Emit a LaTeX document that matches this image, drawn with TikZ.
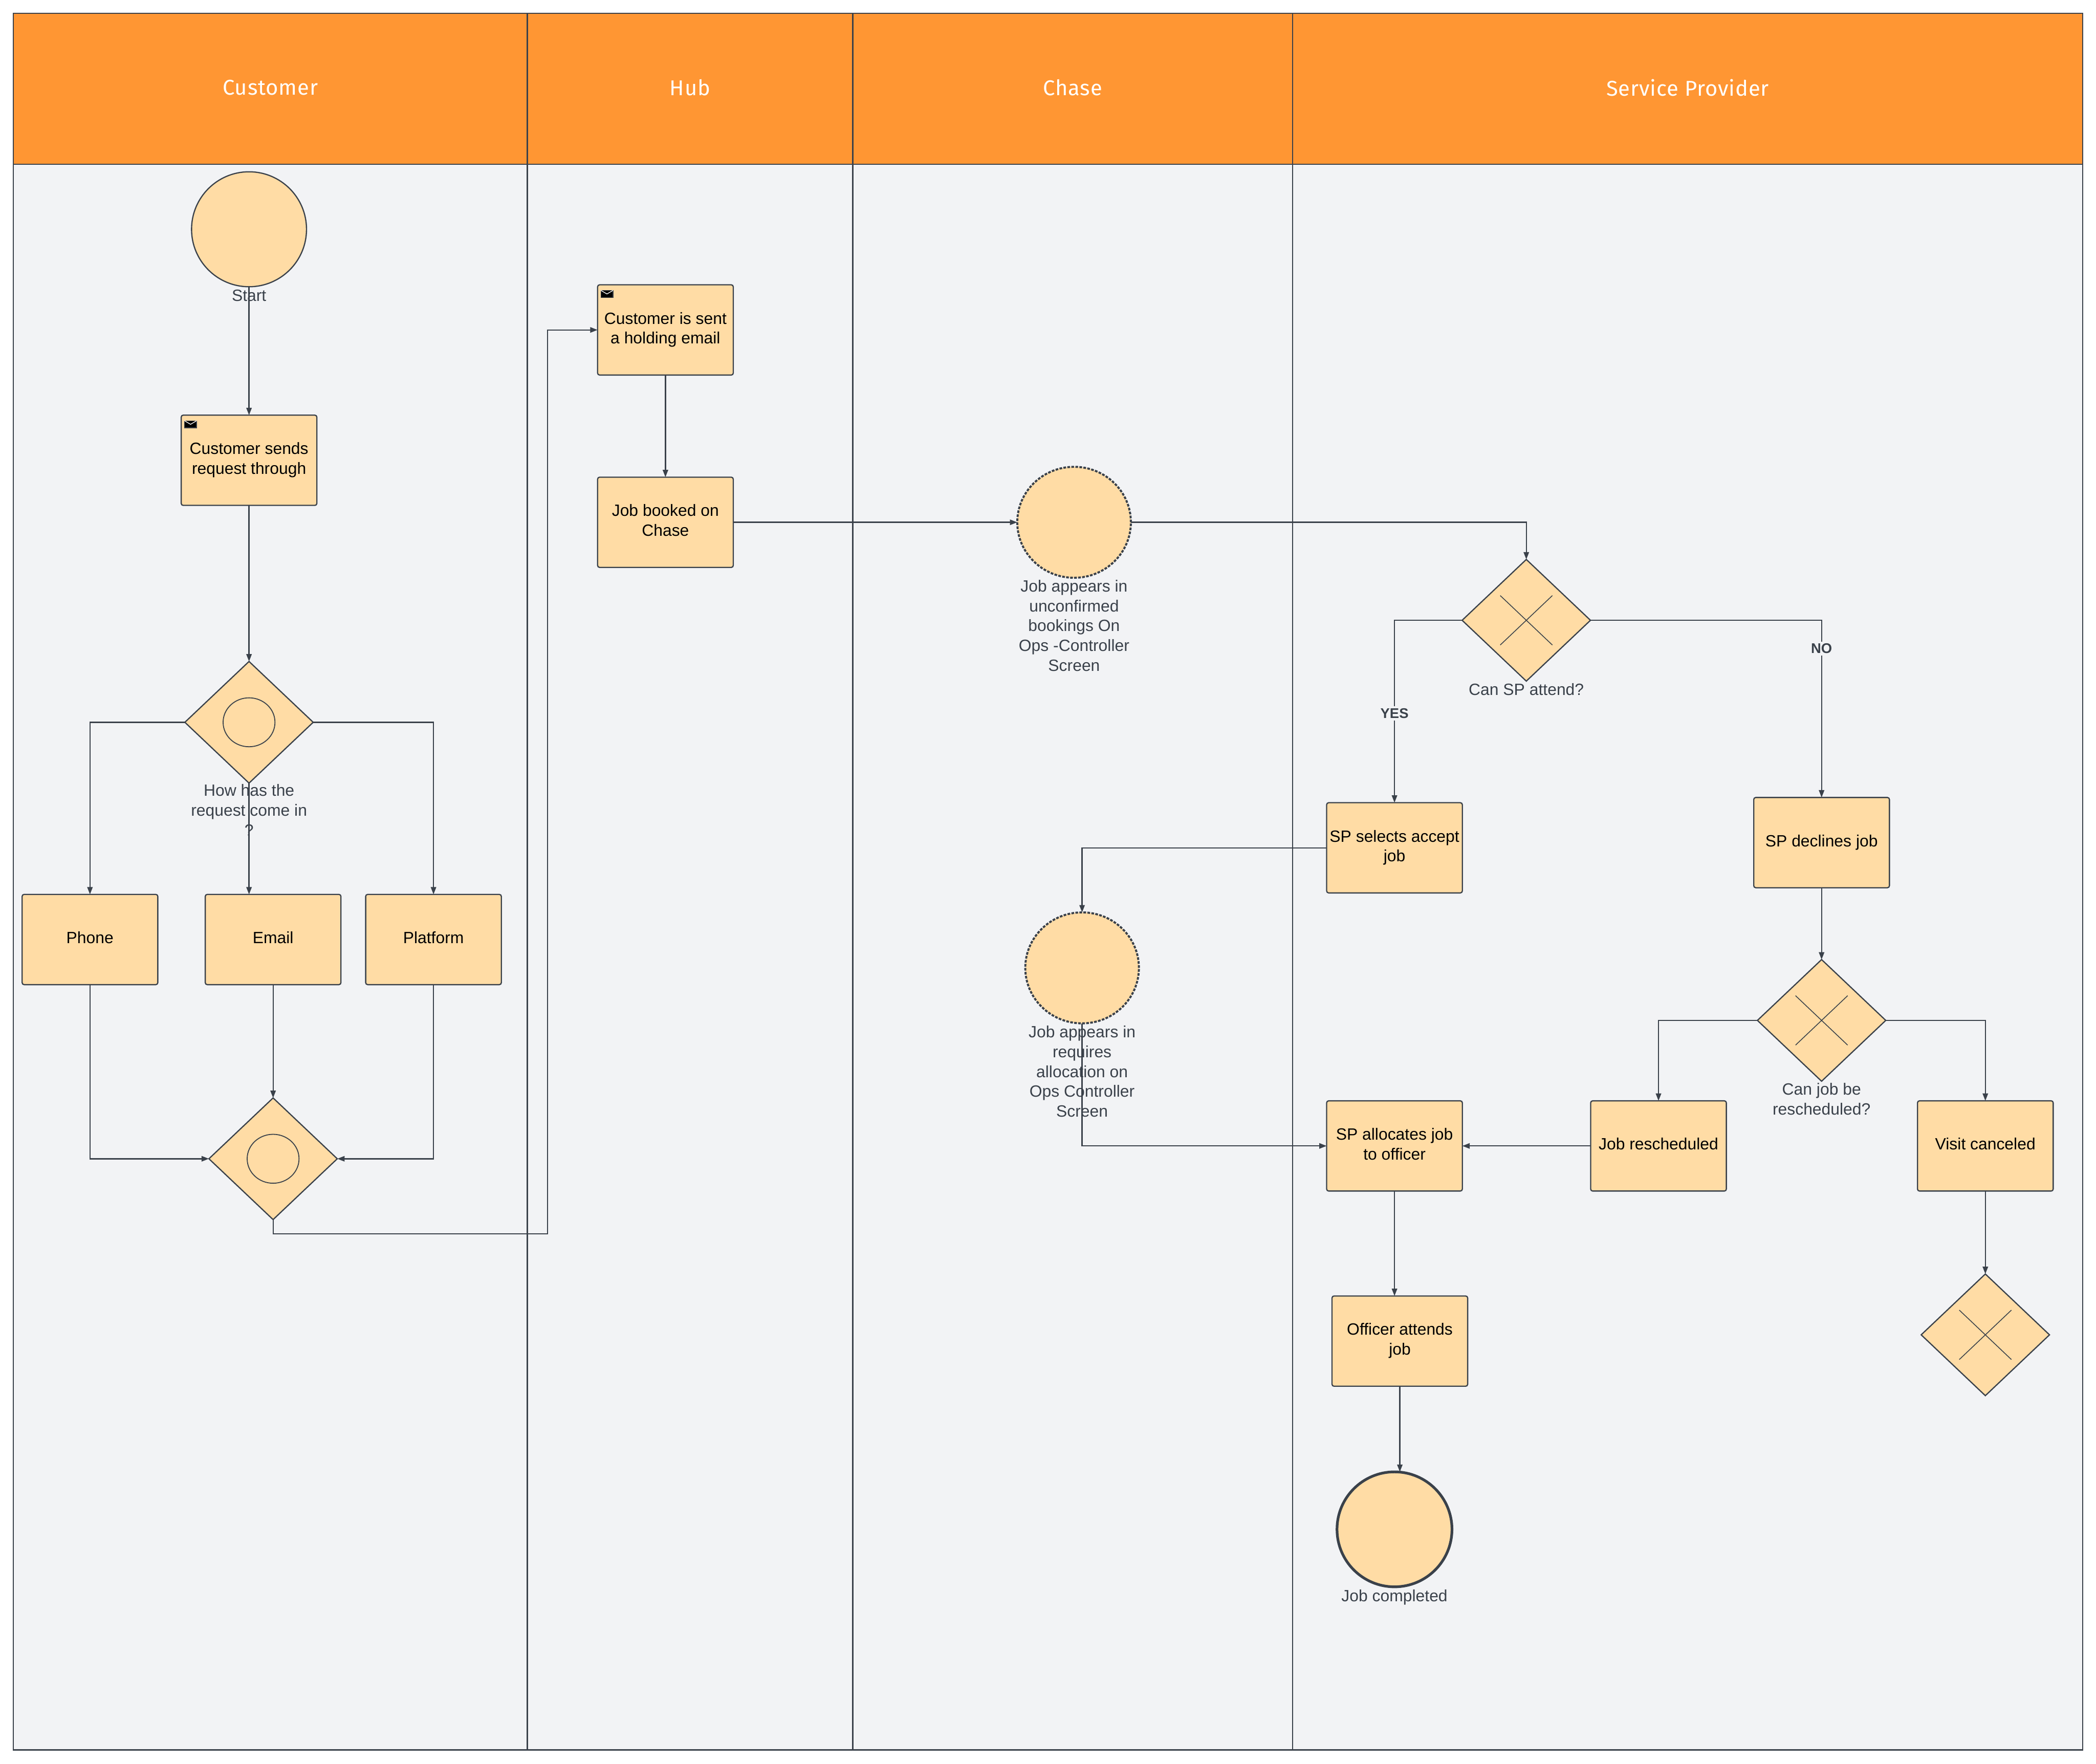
\documentclass[tikz,border=0pt]{standalone}
\usepackage{fontspec}
\setmainfont{Liberation Sans}
\newfontfamily\headfont[LetterSpace=2]{Fira Sans}
\usetikzlibrary{shapes.geometric,arrows.meta}
\definecolor{lineslate}{RGB}{58,65,74}
\definecolor{headorange}{RGB}{255,150,51}
\definecolor{taskpeach}{RGB}{255,220,165}
\definecolor{lanegrey}{RGB}{242,243,245}
\tikzset{
  lanehead/.style={draw=lineslate, fill=headorange, line width=.9pt, inner sep=0pt, outer sep=0pt, minimum height=113pt, text=white, text depth=2pt, font=\headfont\fontsize{16}{19}\selectfont},
  lanebody/.style={draw=lineslate, fill=lanegrey, line width=.9pt, inner sep=0pt, outer sep=0pt, minimum height=1186pt},
  taskbox/.style={draw=lineslate, fill=taskpeach, line width=.9pt, rounded corners=1.5pt, inner sep=0pt, outer sep=0pt, minimum width=101.5pt, minimum height=67.5pt, align=center, text=black, text depth=3pt, font=\fontsize{12.2}{14.8}\selectfont},
  gatebox/.style={draw=lineslate, fill=taskpeach, diamond, line width=.9pt, inner sep=0pt, outer sep=0pt, minimum width=96pt, minimum height=91pt},
  gateround/.style={draw=lineslate, fill=taskpeach, ellipse, line width=.7pt, inner sep=0pt, outer sep=0pt, minimum width=38.8pt, minimum height=36.6pt},
  startround/.style={draw=lineslate, fill=taskpeach, circle, line width=.9pt, inner sep=0pt, outer sep=0pt, minimum size=86pt},
  waitround/.style={draw=lineslate, fill=taskpeach, ellipse, line width=1.5pt, dash pattern=on 2pt off 1pt, inner sep=0pt, outer sep=0pt, minimum width=85pt, minimum height=83pt},
  endround/.style={draw=lineslate, fill=taskpeach, circle, line width=2pt, inner sep=0pt, outer sep=0pt, minimum size=86pt},
  notelabel/.style={align=center, text=lineslate, inner sep=0pt, font=\fontsize{12.2}{14.8}\selectfont},
  edgelabel/.style={fill=lanegrey, inner sep=1.5pt, text=lineslate, font=\bfseries\fontsize{10.5}{12}\selectfont},
  mailbox/.style={draw=lineslate, fill=black, line width=.5pt, inner sep=0pt, outer sep=0pt, minimum width=9pt, minimum height=5.3pt, anchor=north west},
  conn/.style={draw=lineslate, line width=.9pt, ->},
  >={Triangle[width=4pt,length=5.5pt]}
}
\newcommand{\mailmark}[1]{
  \node[mailbox] (#1mail) at ([shift={(2.5,4.2)}]#1.north west) {};
  \draw[white, line width=.5pt] (#1mail.north west) -- (#1mail.center) -- (#1mail.north east);
}
\newcommand{\crossmark}[1]{
  \draw[lineslate, line width=.6pt] (#1.center) +(-19.5,-18.5) -- +(19.5,18.5);
  \draw[lineslate, line width=.6pt] (#1.center) +(19.5,-18.5) -- +(-19.5,18.5);
}

\begin{document}
\begin{tikzpicture}[x=1pt,y=-1pt]
\useasboundingbox (0,0) rectangle (1568,1319.5);

% Lanes
\node[lanebody, minimum width=384.5pt] (customerlane) at (202.25,716) {};
\node[lanebody, minimum width=243.5pt] (hublane) at (516.25,716) {};
\node[lanebody, minimum width=329pt] (chaselane) at (802.5,716) {};
\node[lanebody, minimum width=591pt] (providerlane) at (1262.5,716) {};
\node[lanehead, minimum width=384.5pt] (customerhead) at (202.25,66.5) {Customer};
\node[lanehead, minimum width=243.5pt] (hubhead) at (516.25,66.5) {Hub};
\node[lanehead, minimum width=329pt] (chasehead) at (802.5,66.5) {Chase};
\node[lanehead, minimum width=591pt] (providerhead) at (1262.5,66.5) {Service Provider};

% Customer lane
\node[startround] (start) at (186.3,171.5) {};
\node[notelabel] (startlabel) at (186.3,221) {Start};
\node[taskbox] (send) at (186.3,344.3) {Customer sends\\request through};
\node[gatebox] (channel) at (186.3,540.3) {};
\node[gateround] (channelmark) at (186.3,540.3) {};
\node[notelabel] (channellabel) at (186.3,606) {How has the\\request come in\\?};
\node[taskbox] (phone) at (67.3,702.8) {Phone};
\node[taskbox] (email) at (204.3,702.8) {Email};
\node[taskbox] (platform) at (324.3,702.8) {Platform};
\node[gatebox] (merge) at (204.3,866.8) {};
\node[gateround] (mergemark) at (204.3,866.8) {};
\coordinate (hubbend) at (409.5,923);

% Hub lane
\node[taskbox] (holding) at (497.8,246.8) {Customer is sent\\a holding email};
\node[taskbox] (booked) at (497.8,390.7) {Job booked on\\Chase};

% Chase lane
\node[waitround] (pending) at (803.5,390.7) {};
\node[notelabel] (pendinglabel) at (803.5,468) {Job appears in\\unconfirmed\\bookings On\\Ops -Controller\\Screen};
\node[waitround] (allocation) at (809.5,724) {};
\node[notelabel] (allocationlabel) at (809.5,801.5) {Job appears in\\requires\\allocation on\\Ops Controller\\Screen};

% Service provider lane
\node[gatebox] (attend) at (1141.8,464) {};
\node[notelabel] (attendlabel) at (1141.8,515.5) {Can SP attend?};
\node[taskbox] (accept) at (1043.2,634.2) {SP selects accept\\job};
\node[taskbox] (decline) at (1362.7,630.3) {SP declines job};
\node[gatebox] (again) at (1362.7,763.3) {};
\node[notelabel] (againlabel) at (1362.7,822) {Can job be\\rescheduled?};
\node[taskbox] (assign) at (1043.2,857.2) {SP allocates job\\to officer};
\node[taskbox] (resched) at (1240.7,857.2) {Job rescheduled};
\node[taskbox] (cancel) at (1485.2,857.2) {Visit canceled};
\node[gatebox] (closed) at (1485.2,998.5) {};
\node[taskbox] (officer) at (1047.2,1003.2) {Officer attends\\job};
\node[endround] (finish) at (1043.2,1144) {};
\node[notelabel] (finishlabel) at (1043.2,1195) {Job completed};

% Marks inside shapes
\mailmark{send}
\mailmark{holding}
\crossmark{attend}
\crossmark{again}
\crossmark{closed}

% Connectors
\draw[conn] (start.south) -- (send.north);
\draw[conn] (send.south) -- (channel.north);
\draw[conn] (channel.west) -| (phone.north);
\draw[conn] (channel.south) -- (channel.south |- email.north);
\draw[conn] (channel.east) -| (platform.north);
\draw[conn] (phone.south) |- (merge.west);
\draw[conn] (email.south) -- (merge.north);
\draw[conn] (platform.south) |- (merge.east);
\draw[conn] (merge.south) |- (hubbend) |- (holding.west);
\draw[conn] (holding.south) -- (booked.north);
\draw[conn] (booked.east) -- (pending.west);
\draw[conn] (pending.east) -| (attend.north);
\draw[conn] (attend.west) -| node[edgelabel, pos=.755] (yeslabel) {YES} (accept.north);
\draw[conn] (attend.east) -| node[edgelabel, pos=.58] (nolabel) {NO} (decline.north);
\draw[conn] (accept.west) -| (allocation.north);
\draw[conn] (allocation.south) |- (assign.west);
\draw[conn] (decline.south) -- (again.north);
\draw[conn] (again.west) -| (resched.north);
\draw[conn] (again.east) -| (cancel.north);
\draw[conn] (resched.west) -- (assign.east);
\draw[conn] (cancel.south) -- (closed.north);
\draw[conn] (assign.south) -- (assign.south |- officer.north);
\draw[conn] (officer.south) -- (officer.south |- finish.north);
\end{tikzpicture}
\end{document}
